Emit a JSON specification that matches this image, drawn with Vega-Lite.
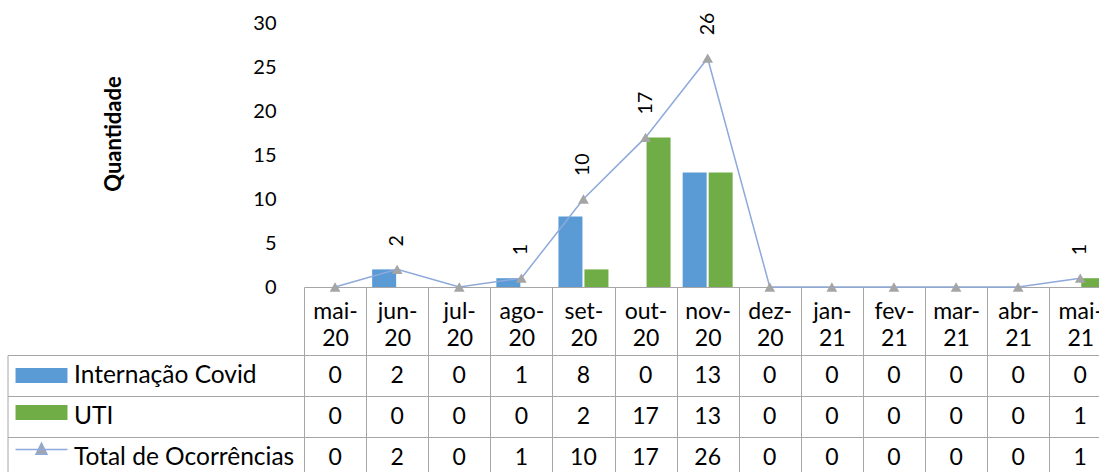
{
  "$schema": "https://vega.github.io/schema/vega-lite/v6.json",
  "width": 795,
  "height": 264,
  "autosize": "none",
  "padding": {"left": 304, "top": 23, "right": 0, "bottom": 185},
  "config": {
    "view": {"stroke": null},
    "font": "Lato",
    "axis": {"labelFont": "Lato", "titleFont": "Lato", "labelColor": "#000000", "titleColor": "#000000"},
    "legend": {"labelFont": "Lato"}
  },
  "data": {
    "values": [
      {"mes": "mai-20", "serie": "Internação Covid", "valor": 0},
      {"mes": "jun-20", "serie": "Internação Covid", "valor": 2},
      {"mes": "jul-20", "serie": "Internação Covid", "valor": 0},
      {"mes": "ago-20", "serie": "Internação Covid", "valor": 1},
      {"mes": "set-20", "serie": "Internação Covid", "valor": 8},
      {"mes": "out-20", "serie": "Internação Covid", "valor": 0},
      {"mes": "nov-20", "serie": "Internação Covid", "valor": 13},
      {"mes": "dez-20", "serie": "Internação Covid", "valor": 0},
      {"mes": "jan-21", "serie": "Internação Covid", "valor": 0},
      {"mes": "fev-21", "serie": "Internação Covid", "valor": 0},
      {"mes": "mar-21", "serie": "Internação Covid", "valor": 0},
      {"mes": "abr-21", "serie": "Internação Covid", "valor": 0},
      {"mes": "mai-21", "serie": "Internação Covid", "valor": 0},
      {"mes": "mai-20", "serie": "UTI", "valor": 0},
      {"mes": "jun-20", "serie": "UTI", "valor": 0},
      {"mes": "jul-20", "serie": "UTI", "valor": 0},
      {"mes": "ago-20", "serie": "UTI", "valor": 0},
      {"mes": "set-20", "serie": "UTI", "valor": 2},
      {"mes": "out-20", "serie": "UTI", "valor": 17},
      {"mes": "nov-20", "serie": "UTI", "valor": 13},
      {"mes": "dez-20", "serie": "UTI", "valor": 0},
      {"mes": "jan-21", "serie": "UTI", "valor": 0},
      {"mes": "fev-21", "serie": "UTI", "valor": 0},
      {"mes": "mar-21", "serie": "UTI", "valor": 0},
      {"mes": "abr-21", "serie": "UTI", "valor": 0},
      {"mes": "mai-21", "serie": "UTI", "valor": 1},
      {"mes": "mai-20", "serie": "Total de Ocorrências", "valor": 0},
      {"mes": "jun-20", "serie": "Total de Ocorrências", "valor": 2},
      {"mes": "jul-20", "serie": "Total de Ocorrências", "valor": 0},
      {"mes": "ago-20", "serie": "Total de Ocorrências", "valor": 1},
      {"mes": "set-20", "serie": "Total de Ocorrências", "valor": 10},
      {"mes": "out-20", "serie": "Total de Ocorrências", "valor": 17},
      {"mes": "nov-20", "serie": "Total de Ocorrências", "valor": 26},
      {"mes": "dez-20", "serie": "Total de Ocorrências", "valor": 0},
      {"mes": "jan-21", "serie": "Total de Ocorrências", "valor": 0},
      {"mes": "fev-21", "serie": "Total de Ocorrências", "valor": 0},
      {"mes": "mar-21", "serie": "Total de Ocorrências", "valor": 0},
      {"mes": "abr-21", "serie": "Total de Ocorrências", "valor": 0},
      {"mes": "mai-21", "serie": "Total de Ocorrências", "valor": 1}
    ]
  },
  "layer": [
    {
      "layer": [
        {
          "transform": [{"filter": "datum.serie !== 'Total de Ocorrências'"}],
          "mark": {"type": "bar"},
          "encoding": {
            "x": {
              "field": "mes", "type": "nominal", "sort": null, "title": null,
              "scale": {"domain": ["mai-20","jun-20","jul-20","ago-20","set-20","out-20","nov-20","dez-20","jan-21","fev-21","mar-21","abr-21","mai-21"], "range": [0, 807.3], "paddingInner": 0, "paddingOuter": 0},
              "axis": {
                "orient": "bottom",
                "domainColor": "#A6A6A6",
                "domainWidth": 1,
                "tickColor": "#A6A6A6",
                "tickSize": 191,
                "tickBand": "extent",
                "labelExpr": "[slice(datum.label, 0, 4), slice(datum.label, 4)]",
                "labelFontSize": 23,
                "labelBaseline": "top",
                "labelLineHeight": 27,
                "labelPadding": -178,
                "labelAngle": 0,
                "labelOverlap": false,
                "labelColor": "#000000"
              }
            },
            "xOffset": {"field": "serie", "type": "nominal", "scale": {"domain": ["Internação Covid", "UTI"], "paddingInner": 0.077, "paddingOuter": 0.233}},
            "y": {
              "field": "valor", "type": "quantitative",
              "scale": {"domain": [0, 30], "nice": false},
              "axis": {
                "values": [0, 5, 10, 15, 20, 25, 30],
                "domain": false, "ticks": false, "grid": false,
                "labelFontSize": 20, "labelPadding": 28,
                "title": "Quantidade", "titleFontSize": 22, "titleFontWeight": "bold",
                "titleAngle": -90, "titleAlign": "center", "titleBaseline": "middle",
                "titleX": -190.5, "titleY": 110.5
              }
            },
            "color": {
              "field": "serie", "type": "nominal",
              "scale": {"domain": ["Internação Covid", "UTI", "Total de Ocorrências"], "range": ["#5B9BD5", "#70AD47", "#A5A5A5"]},
              "legend": {
                "orient": "none", "legendX": -289.5, "legendY": 325.5,
                "direction": "vertical", "title": null, "padding": 0,
                "rowPadding": -12.5,
                "symbolSize": 2704,
                "symbolType": {"expr": "datum.value === 'Total de Ocorrências' ? 'M-1,0H1M-0.21,0.18L0,-0.24L0.21,0.18Z' : 'M-0.97,-0.26H0.97V0.26H-0.97Z'"},
                "symbolStrokeColor": {"expr": "datum.value === 'Total de Ocorrências' ? '#8EA9DB' : (datum.value === 'UTI' ? '#70AD47' : '#5B9BD5')"},
                "symbolStrokeWidth": 1.5,
                "symbolOpacity": 1,
                "labelExpr": "''"
              }
            }
          }
        },
        {
          "transform": [{"filter": "datum.serie === 'Total de Ocorrências'"}],
          "mark": {"type": "line", "color": "#8EA9DB", "strokeWidth": 1.5},
          "encoding": {
            "x": {"field": "mes", "type": "nominal", "sort": null},
            "y": {"field": "valor", "type": "quantitative"}
          }
        },
        {
          "transform": [{"filter": "datum.serie === 'Total de Ocorrências'"}],
          "mark": {"type": "point", "shape": "triangle-up", "filled": true, "size": 115, "opacity": 1},
          "encoding": {
            "x": {"field": "mes", "type": "nominal", "sort": null},
            "y": {"field": "valor", "type": "quantitative"},
            "color": {"datum": "Total de Ocorrências", "type": "nominal"}
          }
        },
        {
          "transform": [{"filter": "datum.serie === 'Total de Ocorrências' && datum.valor > 0"}],
          "mark": {"type": "text", "angle": 270, "align": "left", "baseline": "middle", "dx": 23, "fontSize": 19.5, "color": "#000000"},
          "encoding": {
            "x": {"field": "mes", "type": "nominal", "sort": null},
            "y": {"field": "valor", "type": "quantitative"},
            "text": {"field": "valor", "type": "quantitative"}
          }
        }
      ]
    },
    {
      "mark": {"type": "text", "fontSize": 23, "baseline": "middle", "color": "#000000"},
      "encoding": {
        "x": {"field": "mes", "type": "nominal", "sort": null},
        "y": {
          "field": "serie", "type": "nominal",
          "scale": {"domain": ["Internação Covid", "UTI", "Total de Ocorrências"], "range": [332, 455], "paddingInner": 0, "paddingOuter": 0},
          "axis": {
            "orient": "left", "offset": 296.5, "title": null,
            "domain": true, "domainColor": "#A6A6A6",
            "ticks": true, "tickColor": "#A6A6A6", "tickSize": -296.5, "tickBand": "extent",
            "grid": true, "gridColor": "#A6A6A6", "gridOpacity": 1,
            "labelAlign": "left", "labelPadding": 230.5, "labelFontSize": 24.5, "labelLimit": 400,
            "labelColor": "#000000"
          }
        },
        "text": {"field": "valor", "type": "quantitative"}
      }
    }
  ],
  "resolve": {"scale": {"y": "independent"}, "axis": {"y": "independent"}}
}
